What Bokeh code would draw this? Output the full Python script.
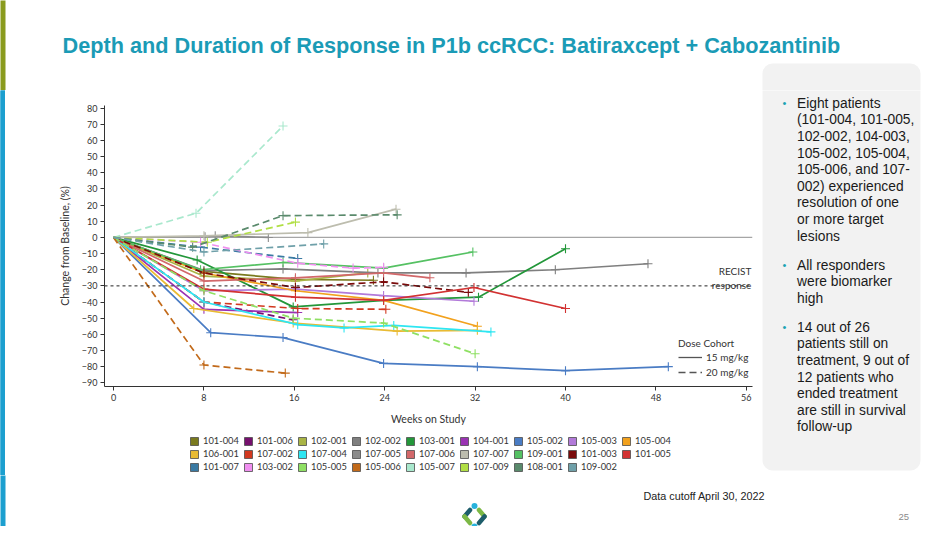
import math
from bokeh.plotting import figure
from bokeh.layouts import column, row
from bokeh.models import (Range1d, Span, Legend, LegendItem, ColumnDataSource, FixedTicker, BoxAnnotation)
from bokeh.embed import file_html
from bokeh.resources import INLINE
from bokeh.core.properties import value

# ---------------- data (weeks on study, % change from baseline) ----------------
patients = ["101-004", "101-006", "102-001", "102-002", "103-001", "104-001", "105-002", "105-003", "105-004",
            "106-001", "107-002", "107-004", "107-005", "107-006", "107-007", "109-001", "101-003", "101-005",
            "101-007", "103-002", "105-005", "105-006", "105-007", "107-009", "108-001", "109-002"]
colors = ["#7a7a1e", "#76106e", "#a9b445", "#7f7f7f", "#23973a", "#9a33b3", "#4a7cc4", "#b27ad9", "#f2a11d",
          "#e9bb33", "#d2381f", "#2ee6f2", "#8c8c8c", "#d2686a", "#bdbdae", "#55c163", "#7a0b0b", "#d23232",
          "#3a7aa3", "#f08ff0", "#8fe063", "#c26a1a", "#a9e8cd", "#b1df45", "#5a8a6c", "#6fa0a9"]
dashed = ["101-006", "107-002", "101-003", "101-007", "103-002", "105-005", "105-006", "105-007", "107-009",
          "108-001", "109-002"]

w_101_004 = [0, 8, 16.1, 23]
v_101_004 = [0, -21, -26, -26.5]
w_101_006 = [0, 8, 15.9]
v_101_006 = [0, -40, -51]
w_102_001 = [0, 8, 16.1, 22.5]
v_102_001 = [0, -24, -27, -22]
w_102_002 = [0, 8, 15, 23.4, 31.2, 39.1, 47.3]
v_102_002 = [0, -20.5, -19.5, -22, -22, -20, -16.3]
w_103_001 = [0, 7.4, 15.9, 23.9, 32.3, 40]
v_103_001 = [0, -14, -43, -39, -37, -7]
w_104_001 = [0, 8, 16.3]
v_104_001 = [0, -44.5, -46.5]
w_105_002 = [0, 8.6, 15, 23.9, 32.2, 40, 49.1]
v_105_002 = [0, -59, -62, -78, -80, -82.5, -80]
w_105_003 = [0, 8, 16.1, 23.9, 31.9]
v_105_003 = [0, -33, -32, -36, -39.5]
w_105_004 = [0, 8, 16.1, 23.9, 32.2]
v_105_004 = [0, -22, -33, -39, -55]
w_106_001 = [0, 7.1, 15.9, 25.1, 32.2]
v_106_001 = [0, -44, -53, -58, -57.5]
w_107_002 = [0, 8, 16.3, 24.1]
v_107_002 = [0, -40, -44, -44.5]
w_107_004 = [0, 8, 16.3, 20.4, 24.8, 33.4]
v_107_004 = [0, -40, -54, -56, -54.5, -58.5]
w_107_005 = [0, 8.1, 9, 13.7]
v_107_005 = [0, 0.5, 1, 0]
w_107_006 = [0, 8, 16.1, 23.9, 28]
v_107_006 = [0, -27, -25, -22, -25]
w_107_007 = [0, 8, 17.2, 25]
v_107_007 = [0, 1, 3, 17.5]
w_109_001 = [0, 7.7, 15, 23.9, 31.8]
v_109_001 = [0, -20, -15.5, -19, -9]
w_101_003 = [0, 8, 16.1, 23.9, 31.4]
v_101_003 = [0, -22, -31, -27.5, -34]
w_101_005 = [0, 8, 16.1, 23.9, 31.9, 40]
v_101_005 = [0, -32, -37, -39, -31, -44]
w_101_007 = [0, 7.7, 16.3]
v_101_007 = [0, -6, -13]
w_103_002 = [0, 7.7, 16.3, 21.2, 23.9]
v_103_002 = [0, -3, -16, -19, -18.5]
w_105_005 = [0, 8, 15.9, 23.9, 32]
v_105_005 = [0, -33, -50, -53, -72]
w_105_006 = [0, 8, 15.2]
v_105_006 = [0, -79, -84]
w_105_007 = [0, 7.3, 15.0]
v_105_007 = [0, 15, 69]
w_107_009 = [0, 8.3, 16.1]
v_107_009 = [0, -3, 9.5]
w_108_001 = [0, 7, 15, 25.1]
v_108_001 = [0, -6, 13.5, 14]
w_109_002 = [0, 8, 18.6]
v_109_002 = [0, -9, -4]

y_ticks = list(range(-90, 81, 10))
x_ticks = [0, 8, 16, 24, 32, 40, 48, 56]

series = {
    "101-004": (w_101_004, v_101_004), "101-006": (w_101_006, v_101_006), "102-001": (w_102_001, v_102_001),
    "102-002": (w_102_002, v_102_002), "103-001": (w_103_001, v_103_001), "104-001": (w_104_001, v_104_001),
    "105-002": (w_105_002, v_105_002), "105-003": (w_105_003, v_105_003), "105-004": (w_105_004, v_105_004),
    "106-001": (w_106_001, v_106_001), "107-002": (w_107_002, v_107_002), "107-004": (w_107_004, v_107_004),
    "107-005": (w_107_005, v_107_005), "107-006": (w_107_006, v_107_006), "107-007": (w_107_007, v_107_007),
    "109-001": (w_109_001, v_109_001), "101-003": (w_101_003, v_101_003), "101-005": (w_101_005, v_101_005),
    "101-007": (w_101_007, v_101_007), "103-002": (w_103_002, v_103_002), "105-005": (w_105_005, v_105_005),
    "105-006": (w_105_006, v_105_006), "105-007": (w_105_007, v_105_007), "107-009": (w_107_009, v_107_009),
    "108-001": (w_108_001, v_108_001), "109-002": (w_109_002, v_109_002),
}

title_text = "Depth and Duration of Response in P1b ccRCC: Batiraxcept + Cabozantinib"
bullets = [
    ["Eight patients", "(101-004, 101-005,", "102-002, 104-003,", "105-002, 105-004,",
     "105-006, and 107-", "002) experienced", "resolution of one", "or more target", "lesions"],
    ["All responders", "were biomarker", "high"],
    ["14 out of 26", "patients still on", "treatment, 9 out of", "12 patients who",
     "ended treatment", "are still in survival", "follow-up"],
]
footer_text = "Data cutoff April 30, 2022"
page_no = "25"

AX_FONT = "Lato"
SANS = "Liberation Sans"
OLIVE = "#8a9b1e"
BLUE = "#1c9fcf"
PANEL = "#f2f2f2"
NAN = float("nan")


def deco(px0, px1, py0, py1, bg="white"):
    f = figure(width=px1 - px0, height=py1 - py0, x_range=Range1d(px0, px1), y_range=Range1d(py1, py0),
               x_axis_type=None, y_axis_type=None, toolbar_location=None, output_backend="svg",
               min_border=0, title=None)
    f.outline_line_color = None
    f.background_fill_color = bg
    f.border_fill_color = bg
    return f


# ---------------- top strip: title (page y 0..90) ----------------
top = deco(0, 942, 0, 90)
top.quad(left=[-2], right=[5], top=[-5], bottom=[95], fill_color=OLIVE, line_color=None)
top.add_layout(BoxAnnotation(left=762, right=920, top=63, bottom=140, fill_color=PANEL, fill_alpha=1,
                             line_color=None, border_radius=10, level="underlay"))
top.text(x=[62], y=[45], text=[title_text], text_font=value(SANS), text_font_style="bold",
         text_font_size="21.7px", text_color="#1b9bb6", text_baseline="middle", text_align="left")

# ---------------- left bar (middle) ----------------
bar = deco(0, 5, 90, 475, bg=BLUE)
bar.quad(left=[-2], right=[7], top=[85], bottom=[480], fill_color=BLUE, line_color=None)

# ---------------- main chart ----------------
FL, FR, FT, FB = 104, 752, 105, 386      # frame in page px
CX0, CX1, CY0, CY1 = 5, 757, 90, 432     # chart figure in page px
X0, X1 = -0.8, 56.55
Y0, Y1 = -92.3, 81.7

p = figure(width=CX1 - CX0, height=CY1 - CY0, output_backend="svg", toolbar_location=None,
           x_range=Range1d(X0, X1), y_range=Range1d(Y0, Y1),
           min_border_left=FL - CX0, min_border_right=CX1 - FR, min_border_top=FT - CY0,
           min_border_bottom=CY1 - FB, title=None)
p.background_fill_color = "white"
p.border_fill_color = "white"
p.outline_line_color = None
p.grid.visible = False

for ax in (p.xaxis, p.yaxis):
    ax.axis_line_color = "#333333"
    ax.major_tick_line_color = "#333333"
    ax.major_tick_out = 4
    ax.major_tick_in = 0
    ax.minor_tick_line_color = None
    ax.major_label_text_font = AX_FONT
    ax.major_label_text_font_size = "9px"
    ax.major_label_text_color = "#333333"
    ax.axis_label_text_font = AX_FONT
    ax.axis_label_text_font_size = "10.5px"
    ax.axis_label_text_font_style = "normal"
    ax.axis_label_text_color = "#333333"
p.yaxis.ticker = FixedTicker(ticks=y_ticks)
p.xaxis.ticker = FixedTicker(ticks=x_ticks)
p.yaxis.major_label_standoff = 3
p.xaxis.major_label_standoff = 3
p.yaxis.axis_label = "Change from Baseline, (%)"
p.xaxis.axis_label = "Weeks on Study"
p.yaxis.axis_label_standoff = 8
p.xaxis.axis_label_standoff = 9

p.line([0, X1], [0, 0], line_color="#a6a6a6", line_width=1.3)
p.add_layout(Span(location=-30, dimension="width", line_color="#222222", line_width=1, line_dash="3 3"))
p.text(x=[X1 - 0.1, X1 - 0.1], y=[-20.5, -29.2], text=["RECIST", "response"], text_font=value(AX_FONT),
       text_font_size="10px", text_color="#333333", text_align="right", text_baseline="middle")

DASH = "7 4"
for pid, col in zip(patients, colors):
    w, v = series[pid]
    dash = DASH if pid in dashed else "solid"
    p.line(x=w, y=v, line_color=col, line_width=1.7, line_dash=dash)
    p.scatter(x=w[1:], y=v[1:], marker="cross", size=9, line_color=col, line_width=1.1)

r_solid = p.line(x=[NAN, NAN], y=[NAN, NAN], line_color="#555555", line_width=1.3)
r_dash = p.line(x=[NAN, NAN], y=[NAN, NAN], line_color="#555555", line_width=1.3, line_dash=DASH)
dose_leg = Legend(items=[LegendItem(label="15 mg/kg", renderers=[r_solid]),
                         LegendItem(label="20 mg/kg", renderers=[r_dash])],
                  title="Dose Cohort", location=(574, 7), orientation="vertical",
                  background_fill_alpha=0, border_line_color=None, padding=0, margin=0,
                  glyph_width=24, glyph_height=14, label_height=14, spacing=1, label_standoff=4,
                  title_standoff=1, label_text_font=AX_FONT, label_text_font_size="10px",
                  label_text_color="#333333", title_text_font=AX_FONT, title_text_font_size="10px",
                  title_text_font_style="normal", title_text_color="#333333")
p.add_layout(dose_leg, "center")

# ---------------- patient legend strip ----------------
lg = deco(5, 757, 432, 475)
items = []
for pid, col in zip(patients, colors):
    rr = lg.rect(x=[NAN], y=[NAN], width=1, height=1, fill_color=col, line_color="#4d4d4d", line_width=0.8)
    items.append(LegendItem(label=pid, renderers=[rr]))
pat_leg = Legend(items=items, location=(85, 3), orientation="horizontal", nrows=3,
                 background_fill_alpha=0, border_line_color=None, padding=0, margin=0,
                 glyph_width=10, glyph_height=10, label_height=10, label_width=38, spacing=2,
                 label_standoff=4, label_text_font=AX_FONT, label_text_font_size="9.3px",
                 label_text_color="#333333", label_text_baseline="middle")
lg.add_layout(pat_leg, "center")

# ---------------- right text panel ----------------
rp = deco(757, 942, 90, 475)
rp.add_layout(BoxAnnotation(left=762, right=920, top=40, bottom=470, fill_color=PANEL, fill_alpha=1,
                            line_color=None, border_radius=10, level="underlay"))
tx, ty, bx, by = [], [], [], []
yy = 102.7
for block in bullets:
    bx.append(782)
    by.append(yy)
    for line in block:
        tx.append(796.5)
        ty.append(yy)
        yy += 16.6
    yy += 12.4
rp.text(x=tx, y=ty, text=[l for b in bullets for l in b], text_font=value(SANS), text_font_size="13.8px",
        text_color="#1a1a1a", text_baseline="middle", text_align="left")
rp.text(x=bx, y=by, text=["\u2022"] * len(bx), text_font=value(SANS), text_font_size="11px",
        text_color="#1aa3b3", text_baseline="middle", text_align="left")

# ---------------- bottom strip ----------------
bt = deco(0, 942, 475, 526)
bt.quad(left=[-2], right=[5], top=[470], bottom=[530], fill_color=BLUE, line_color=None)
bt.text(x=[643], y=[495], text=[footer_text], text_font=value(SANS), text_font_size="10.8px",
        text_color="#222222", text_baseline="middle", text_align="left")
bt.text(x=[898], y=[516], text=[page_no], text_font=value(SANS), text_font_size="9.5px",
        text_color="#8a8a8a", text_baseline="middle", text_align="left")
# logo: two chevrons and two dots
bt.segment(x0=[469.5, 464, 478.5, 484], y0=[509.5, 516, 509.5, 516],
           x1=[464, 469.5, 484, 478.5], y1=[516, 522.5, 516, 522.5],
           line_color=["#1d5d6b", "#7cb845", "#7cb845", "#1d5d6b"], line_width=4.5, line_cap="round")
bt.scatter(x=[474, 474], y=[505.5, 526], marker="circle", size=6, fill_color="#27b2dc", line_color=None)

layout = column(top, row(bar, column(p, lg), rp), bt)
open("out.html", "w").write(file_html(layout, INLINE))
